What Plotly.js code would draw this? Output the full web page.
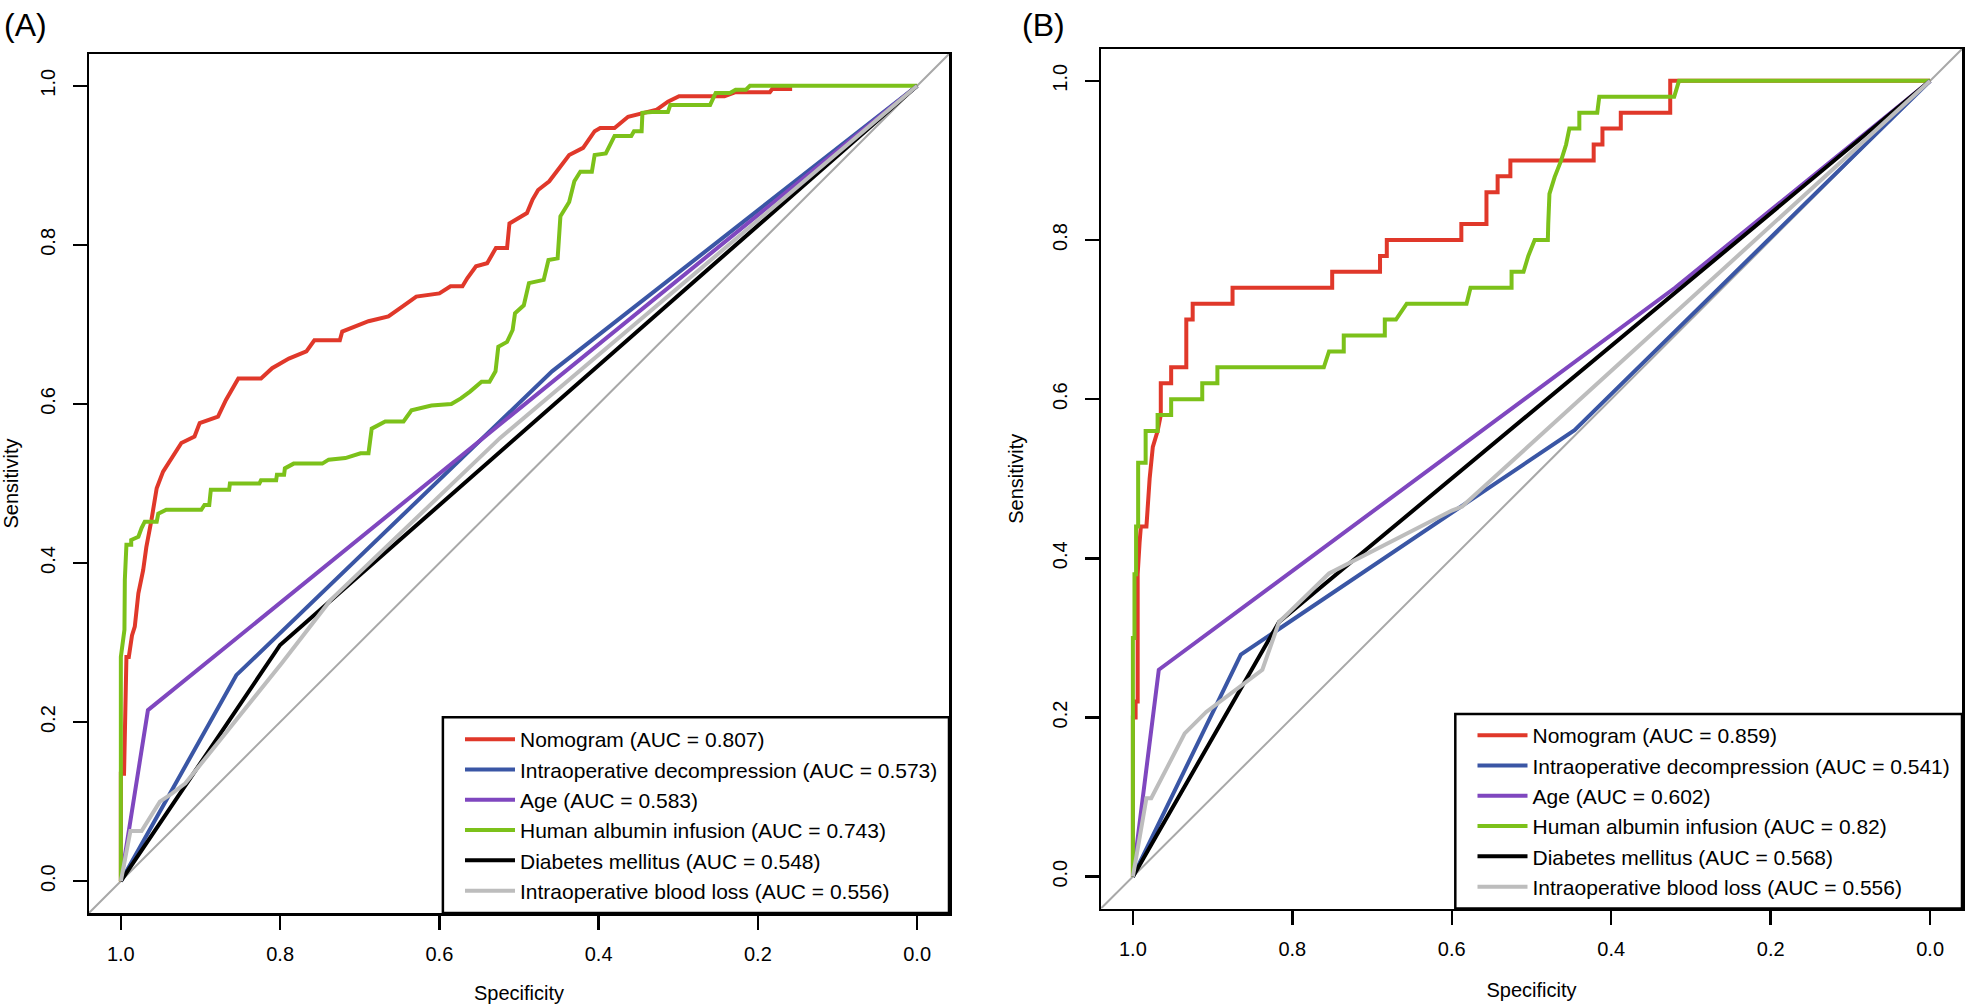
<!DOCTYPE html>
<html>
<head>
<meta charset="utf-8">
<script src="https://cdn.plot.ly/plotly-3.0.1.min.js"></script>
<style>html,body{margin:0;padding:0;background:#fff;}#chart{width:1968px;height:1004px;}</style>
</head>
<body>
<div id="chart"></div>
<script>
// ---------------- Data ----------------
const panelLabels = ["(A)", "(B)"];
const seriesNames = ["Nomogram", "Intraoperative decompression", "Age", "Human albumin infusion", "Diabetes mellitus", "Intraoperative blood loss"];
const aucA = ["0.807", "0.573", "0.583", "0.743", "0.548", "0.556"];
const aucB = ["0.859", "0.541", "0.602", "0.82", "0.568", "0.556"];
const tickVals = [1.0, 0.8, 0.6, 0.4, 0.2, 0.0];
const tickText = ["1.0", "0.8", "0.6", "0.4", "0.2", "0.0"];

// Panel A
const nomogramA_spec = [1.000,1.000,0.996,0.995,0.994,0.993,0.990,0.987,0.986,0.9825,0.978,0.972,0.968,0.9616,0.955,0.947,0.937,0.924,0.9075,0.901,0.878,0.868,0.8525,0.824,0.810,0.789,0.767,0.757,0.725,0.722,0.689,0.664,0.647,0.629,0.600,0.586,0.571,0.565,0.554,0.540,0.529,0.515,0.512,0.490,0.483,0.476,0.462,0.4515,0.437,0.4195,0.405,0.398,0.380,0.363,0.327,0.313,0.299,0.242,0.228,0.185,0.182,0.157];
const nomogramA_sens = [0.000,0.135,0.135,0.190,0.228,0.282,0.282,0.299,0.309,0.320,0.362,0.391,0.420,0.454,0.494,0.515,0.530,0.551,0.559,0.576,0.584,0.605,0.632,0.632,0.645,0.657,0.666,0.680,0.680,0.691,0.704,0.710,0.722,0.735,0.739,0.748,0.748,0.758,0.773,0.777,0.796,0.796,0.827,0.840,0.857,0.869,0.880,0.894,0.913,0.922,0.943,0.947,0.947,0.961,0.970,0.980,0.987,0.987,0.992,0.992,0.996,0.996];
const decompA_spec = [1.000,0.855,0.4585,0.000];
const decompA_sens = [0.000,0.259,0.641,1.000];
const ageA_spec = [1.000,0.966,0.000];
const ageA_sens = [0.000,0.215,1.000];
const albuminA_spec = [1.000,1.000,0.9955,0.995,0.993,0.987,0.987,0.978,0.974,0.970,0.955,0.953,0.943,0.899,0.895,0.889,0.887,0.864,0.863,0.826,0.824,0.805,0.804,0.795,0.794,0.783,0.747,0.739,0.718,0.699,0.689,0.685,0.668,0.645,0.635,0.610,0.585,0.573,0.5615,0.547,0.537,0.5295,0.526,0.515,0.508,0.505,0.494,0.4875,0.469,0.463,0.4515,0.448,0.437,0.4305,0.423,0.4085,0.405,0.391,0.380,0.359,0.3556,0.346,0.345,0.333,0.313,0.310,0.260,0.253,0.235,0.228,0.215,0.210,0.000];
const albuminA_sens = [0.000,0.282,0.316,0.379,0.423,0.423,0.429,0.433,0.444,0.452,0.452,0.462,0.467,0.467,0.473,0.473,0.492,0.492,0.500,0.500,0.504,0.504,0.511,0.511,0.519,0.525,0.525,0.530,0.532,0.538,0.538,0.569,0.578,0.578,0.592,0.598,0.600,0.607,0.6155,0.628,0.628,0.641,0.672,0.678,0.693,0.714,0.724,0.752,0.756,0.781,0.783,0.836,0.854,0.880,0.892,0.892,0.913,0.915,0.937,0.937,0.943,0.943,0.966,0.967,0.967,0.976,0.976,0.991,0.991,0.995,0.995,1.000,1.000];
const diabetesA_spec = [1.000,0.800,0.000];
const diabetesA_sens = [0.000,0.297,1.000];
const bloodA_spec = [1.000,0.988,0.974,0.951,0.936,0.919,0.798,0.756,0.737,0.524,0.000];
const bloodA_sens = [0.000,0.063,0.063,0.100,0.110,0.123,0.274,0.328,0.353,0.557,1.000];

// Panel B
const nomogramB_spec = [1.000,1.000,0.9966,0.9966,0.994,0.994,0.9916,0.990,0.983,0.981,0.979,0.975,0.969,0.965,0.965,0.952,0.952,0.933,0.933,0.925,0.925,0.875,0.875,0.750,0.750,0.690,0.690,0.6815,0.6815,0.588,0.588,0.5565,0.5565,0.5425,0.5425,0.5265,0.5265,0.422,0.422,0.411,0.411,0.388,0.388,0.326,0.326,0.000];
const nomogramB_sens = [0.000,0.200,0.200,0.220,0.220,0.380,0.420,0.440,0.440,0.480,0.500,0.540,0.560,0.580,0.620,0.620,0.640,0.640,0.700,0.700,0.720,0.720,0.740,0.740,0.760,0.760,0.780,0.780,0.800,0.800,0.820,0.820,0.860,0.860,0.880,0.880,0.900,0.900,0.920,0.920,0.940,0.940,0.960,0.960,1.000,1.000];
const decompB_spec = [1.000,0.8646,0.446,0.000];
const decompB_sens = [0.000,0.279,0.561,1.000];
const ageB_spec = [1.000,0.9675,0.320,0.000];
const ageB_sens = [0.000,0.260,0.740,1.000];
const albuminB_spec = [1.000,1.000,0.998,0.998,0.996,0.996,0.9934,0.9934,0.984,0.984,0.969,0.969,0.952,0.952,0.913,0.913,0.894,0.894,0.7605,0.754,0.7355,0.7355,0.684,0.684,0.670,0.6565,0.5815,0.5765,0.525,0.525,0.510,0.504,0.496,0.4795,0.479,0.4775,0.471,0.4628,0.4566,0.4525,0.440,0.440,0.4175,0.415,0.321,0.315,0.000];
const albuminB_sens = [0.000,0.300,0.300,0.380,0.380,0.440,0.440,0.520,0.520,0.560,0.560,0.580,0.580,0.600,0.600,0.620,0.620,0.640,0.640,0.660,0.660,0.680,0.680,0.700,0.700,0.720,0.720,0.740,0.740,0.760,0.760,0.780,0.800,0.800,0.820,0.858,0.879,0.900,0.920,0.940,0.940,0.960,0.960,0.980,0.980,1.000,1.000];
const diabetesB_spec = [1.000,0.8167,0.000];
const diabetesB_sens = [0.000,0.320,1.000];
const bloodB_spec = [1.000,0.983,0.977,0.935,0.908,0.8376,0.8167,0.754,0.600,0.587,0.000];
const bloodB_sens = [0.000,0.0985,0.0985,0.180,0.207,0.260,0.320,0.381,0.460,0.465,1.000];

// ---------------- Styling ----------------
const colors = ["#E0382A", "#3A56A5", "#7F47BF", "#7CC11A", "#000000", "#BDBDBD"];
const FONT = "Liberation Sans, Arial, Helvetica, sans-serif";
const W = 1968, H = 1004;
const px = v => v / W;
const py = v => 1 - v / H;

const dataA = [[nomogramA_spec, nomogramA_sens],[decompA_spec, decompA_sens],[ageA_spec, ageA_sens],[albuminA_spec, albuminA_sens],[diabetesA_spec, diabetesA_sens],[bloodA_spec, bloodA_sens]];
const dataB = [[nomogramB_spec, nomogramB_sens],[decompB_spec, decompB_sens],[ageB_spec, ageB_sens],[albuminB_spec, albuminB_sens],[diabetesB_spec, diabetesB_sens],[bloodB_spec, bloodB_sens]];

const traces = [];
dataA.forEach((d, i) => traces.push({
  type: "scatter", mode: "lines", x: d[0], y: d[1],
  name: seriesNames[i] + " (AUC = " + aucA[i] + ")",
  line: {color: colors[i], width: 4}, xaxis: "x", yaxis: "y", legend: "legend", hoverinfo: "skip"
}));
dataB.forEach((d, i) => traces.push({
  type: "scatter", mode: "lines", x: d[0], y: d[1],
  name: seriesNames[i] + " (AUC = " + aucB[i] + ")",
  line: {color: colors[i], width: 4}, xaxis: "x2", yaxis: "y2", legend: "legend2", hoverinfo: "skip"
}));

function xAxis(domain, anchor) {
  return {
    domain: domain, anchor: anchor, range: [1.04, -0.04],
    tickmode: "array", tickvals: tickVals, ticktext: tickText,
    ticks: "outside", ticklen: 14, tickwidth: 2.5, tickcolor: "#000",
    showline: true, linecolor: "#000", linewidth: 2.5, mirror: true,
    showgrid: false, zeroline: false,
    tickfont: {family: FONT, size: 20, color: "#000"},
    ticklabelstandoff: 7,
    title: {text: "Specificity", font: {family: FONT, size: 20, color: "#000"}, standoff: 24}
  };
}
function yAxis(domain, anchor) {
  return {
    domain: domain, anchor: anchor, range: [-0.04, 1.04],
    tickmode: "array", tickvals: tickVals, ticktext: tickText,
    ticks: "outside", ticklen: 14, tickwidth: 2.5, tickcolor: "#000",
    showline: true, linecolor: "#000", linewidth: 2.5, mirror: true,
    showgrid: false, zeroline: false, tickangle: -90,
    tickfont: {family: FONT, size: 20, color: "#000"},
    ticklabelstandoff: 10,
    title: {text: "Sensitivity", font: {family: FONT, size: 20, color: "#000"}, standoff: 20}
  };
}

function legendBox(xr, yr, top) {
  return {type: "rect", xref: xr + " domain", yref: yr + " domain", x0: 0.4115, x1: 1, y0: 0, y1: top,
          line: {color: "#000", width: 2.5}, fillcolor: "rgba(0,0,0,0)", layer: "above"};
}
function diagonal(xr, yr) {
  return {type: "line", xref: xr, yref: yr, x0: 1.04, y0: -0.04, x1: -0.04, y1: 1.04,
          line: {color: "#A8A8A8", width: 2}, layer: "below"};
}

const legendCommon = {
  xanchor: "left", yanchor: "top", bgcolor: "rgba(0,0,0,0)", borderwidth: 0,
  font: {family: FONT, size: 21, color: "#000"}, itemwidth: 50, tracegroupgap: 0
};

const layout = {
  width: W, height: H,
  margin: {l: 0, r: 0, t: 0, b: 0, pad: 0},
  paper_bgcolor: "#fff", plot_bgcolor: "#fff",
  showlegend: true,
  xaxis: xAxis([px(89), px(949)], "y"),
  yaxis: yAxis([py(913), py(54)], "x"),
  xaxis2: xAxis([px(1101), px(1962)], "y2"),
  yaxis2: yAxis([py(908.5), py(49)], "x2"),
  legend: Object.assign({x: px(460), y: py(719)}, legendCommon),
  legend2: Object.assign({x: px(1472.5), y: py(715)}, legendCommon),
  shapes: [diagonal("x", "y"), diagonal("x2", "y2"), legendBox("x", "y", 0.228), legendBox("x2", "y2", 0.2263)],
  annotations: [
    {text: panelLabels[0], xref: "paper", yref: "paper", x: px(2), y: py(25), xanchor: "left", yanchor: "middle", showarrow: false, font: {family: FONT, size: 32, color: "#000"}},
    {text: panelLabels[1], xref: "paper", yref: "paper", x: px(1020), y: py(25), xanchor: "left", yanchor: "middle", showarrow: false, font: {family: FONT, size: 32, color: "#000"}}
  ]
};

Plotly.newPlot("chart", traces, layout, {displayModeBar: false, staticPlot: true});
</script>
</body>
</html>
